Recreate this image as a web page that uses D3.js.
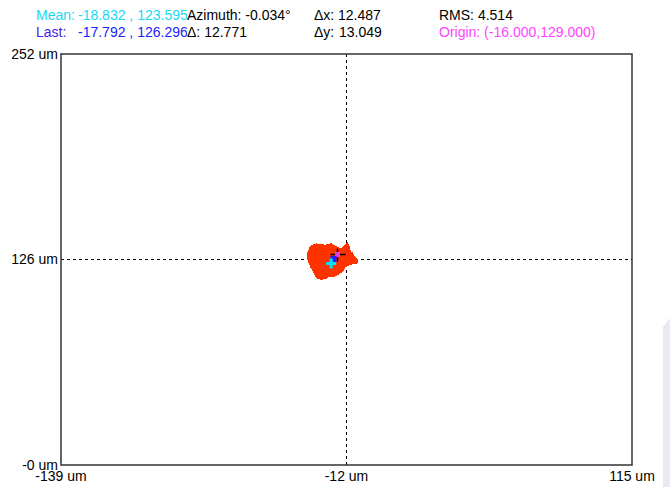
<!DOCTYPE html>
<meta charset="utf-8">
<script src="https://d3js.org/d3.v7.min.js"></script>
<style>
  body { margin: 0; background: #fff; }
  text { font-family: Arial, "Liberation Sans", sans-serif; }
</style>
<div id="my_dataviz"></div>
<script>
// readout values
const meanXY = [-18.832, 123.595];
const lastXY = [-17.792, 126.296];
const originXY = [-16.000, 129.000];
const azimuth = -0.034, delta = 12.771, dX = 12.487, dY = 13.049, rms = 4.514;

// axis ticks (um)
const xTicks = [-139, -12, 115];
const xTickLabels = ["-139 um", "-12 um", "115 um"];
const yTicks = [0, 126, 252];
const yTickLabels = ["-0 um", "126 um", "252 um"];
const crossX = -12, crossY = 126;

// outline of the dense red point cloud (um)
const cloudX = [-27.93, -26.77, -25.26, -24.10, -23.03, -21.56, -20.10, -18.58, -17.12, -15.90, -14.89, -13.42,
                -11.64, -10.76, -10.44, -9.40, -8.66, -7.02, -7.46, -10.44, -12.67, -13.69, -15.65,
                -17.87, -19.30, -20.81, -23.03, -24.99, -26.01, -27.48, -28.55, -29.44, -28.99];
const cloudY = [133.85, 134.89, 135.50, 134.70, 135.07, 134.46, 135.07, 135.50, 133.85, 133.20, 132.25, 133.48,
                135.93, 133.85, 130.78, 129.90, 127.72, 125.69, 124.04, 123.06, 121.59, 119.13, 117.11,
                115.45, 116.10, 114.84, 114.04, 114.47, 117.11, 120.60, 123.67, 127.35, 130.78];

const W = 670, H = 487;
const margin = {top: 54, right: 38, bottom: 22, left: 61};
const width = W - margin.left - margin.right,
      height = H - margin.top - margin.bottom;

const svg = d3.select("#my_dataviz").append("svg")
    .attr("width", W).attr("height", H);

// faint window edge in the bottom right corner
svg.append("path")
    .attr("d", "M663,327 L670,318 L670,487 L663,487 Z")
    .attr("fill", "#e9e9f3");

const g = svg.append("g")
    .attr("transform", `translate(${margin.left},${margin.top})`);

const x = d3.scaleLinear().domain([xTicks[0], xTicks[2]]).range([0, width]);
const y = d3.scaleLinear().domain([yTicks[0], yTicks[2]]).range([height, 0]);

// crosshair
g.append("line")
    .attr("x1", x(crossX)).attr("x2", x(crossX))
    .attr("y1", 0).attr("y2", height)
    .attr("stroke", "#000").attr("stroke-width", 1).attr("stroke-dasharray", "3,3");
g.append("line")
    .attr("x1", 0).attr("x2", width)
    .attr("y1", y(crossY)).attr("y2", y(crossY))
    .attr("stroke", "#000").attr("stroke-width", 1).attr("stroke-dasharray", "3,3");

// cloud
g.append("path")
    .datum(d3.zip(cloudX, cloudY))
    .attr("d", d3.line().x(d => x(d[0])).y(d => y(d[1])).curve(d3.curveLinearClosed))
    .attr("fill", "#ff3300")
    .attr("stroke", "#ff3300").attr("stroke-width", 1.5)
    .attr("shape-rendering", "crispEdges");

// last -> origin segment
g.append("line")
    .attr("x1", x(lastXY[0])).attr("y1", y(lastXY[1]))
    .attr("x2", x(originXY[0])).attr("y2", y(originXY[1]))
    .attr("stroke", "#000").attr("stroke-width", 2);

// origin cross
const ox = x(originXY[0]), oy = y(originXY[1]);
g.append("path")
    .attr("d", `M${ox - 7},${oy}H${ox + 8}M${ox},${oy - 6}V${oy + 7}`)
    .attr("stroke", "#000").attr("stroke-width", 1.5);
g.append("rect")
    .attr("x", ox - 2.5).attr("y", oy - 2.5).attr("width", 5).attr("height", 5)
    .attr("fill", "#e040e0");

// last marker
g.append("rect")
    .attr("x", x(lastXY[0]) - 3).attr("y", y(lastXY[1]) - 3).attr("width", 6).attr("height", 6)
    .attr("fill", "#2020ff");

// mean marker
const mx = x(meanXY[0]), my = y(meanXY[1]);
g.append("path")
    .attr("d", `M${mx - 5},${my}H${mx + 5}M${mx},${my - 5}V${my + 5}`)
    .attr("stroke", "#00e5f5").attr("stroke-width", 3);

// frame
g.append("rect")
    .attr("x", 0).attr("y", 0).attr("width", width).attr("height", height)
    .attr("fill", "none").attr("stroke", "#333").attr("stroke-width", 1.5);

// tick labels
g.selectAll(".ylab").data(yTicks).join("text")
    .attr("x", -3).attr("y", d => y(d))
    .attr("dy", "0.35em").attr("text-anchor", "end")
    .attr("font-size", 14)
    .text((d, i) => yTickLabels[i]);
g.selectAll(".xlab").data(xTicks).join("text")
    .attr("x", d => x(d)).attr("y", height + 16)
    .attr("text-anchor", "middle")
    .attr("font-size", 14)
    .text((d, i) => xTickLabels[i]);

// readout header
const f = v => v.toFixed(3);
svg.append("clipPath").attr("id", "clipL")
  .append("rect").attr("x", 0).attr("y", 0).attr("width", 187).attr("height", 45);
const left = svg.append("g").attr("clip-path", "url(#clipL)").attr("font-size", 14);
left.append("text").attr("x", 36).attr("y", 20).attr("fill", "#19d9f2").text("Mean:");
left.append("text").attr("x", 78).attr("y", 20).attr("fill", "#19d9f2")
    .text(`${f(meanXY[0])} , ${f(meanXY[1])}`);
left.append("text").attr("x", 36).attr("y", 37).attr("fill", "#4422ee").text("Last:");
left.append("text").attr("x", 78).attr("y", 37).attr("fill", "#2020ff")
    .text(`${f(lastXY[0])} , ${f(lastXY[1])}`);

const hdr = svg.append("g").attr("font-size", 14).attr("fill", "#000");
hdr.append("text").attr("x", 187).attr("y", 20).text(`Azimuth: ${f(azimuth)}°`);
hdr.append("text").attr("x", 187).attr("y", 37).text(`Δ: ${f(delta)}`);
hdr.append("text").attr("x", 314).attr("y", 20).text("Δx:");
hdr.append("text").attr("x", 338).attr("y", 20).text(f(dX));
hdr.append("text").attr("x", 314).attr("y", 37).text("Δy:");
hdr.append("text").attr("x", 339).attr("y", 37).text(f(dY));
hdr.append("text").attr("x", 439).attr("y", 20).text(`RMS: ${f(rms)}`);
hdr.append("text").attr("x", 439).attr("y", 37).attr("fill", "#ff44ff")
    .text(`Origin: (${f(originXY[0])},${f(originXY[1])})`);
</script>
